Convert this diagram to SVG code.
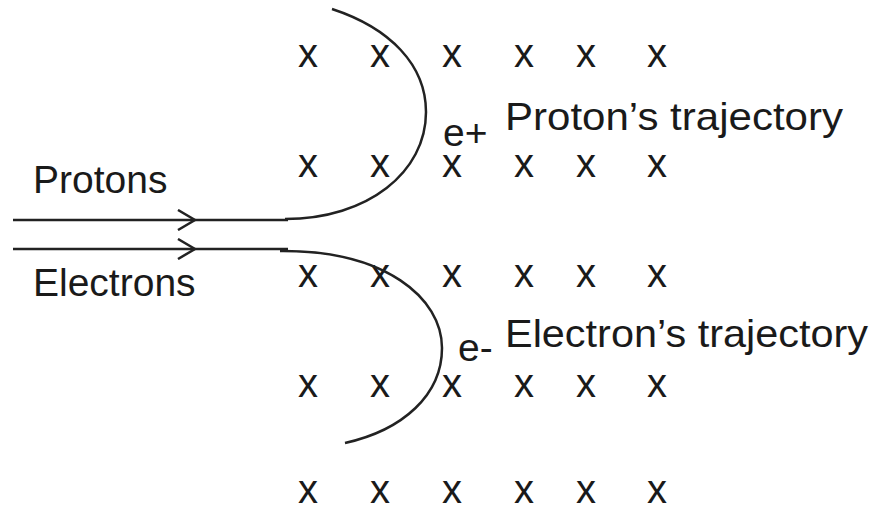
<svg xmlns="http://www.w3.org/2000/svg" width="873" height="510" viewBox="0 0 873 510">
  <style>
    .lbl { font-family: "Liberation Sans", Arial, sans-serif; font-size: 39px; fill: #1a1a1a; }
    .x { font-family: "Liberation Sans", Arial, sans-serif; font-size: 40px; fill: #1a1a1a; text-anchor: middle; }
    .ln { fill: none; stroke: #222; stroke-width: 2.5; }
  </style>
  <defs>
    <marker id="chev" viewBox="0 0 20 22" refX="18" refY="11" markerWidth="20" markerHeight="22" markerUnits="userSpaceOnUse" orient="auto">
      <path d="M1,1 L18,11 L1,21" fill="none" stroke="#222" stroke-width="2.5"/>
    </marker>
  </defs>
  <rect width="873" height="510" fill="#fff"/>

  <g id="field">
    <text class="x" x="308" y="67">x</text><text class="x" x="380" y="67">x</text><text class="x" x="452" y="67">x</text><text class="x" x="524" y="67">x</text><text class="x" x="586" y="67">x</text><text class="x" x="657" y="67">x</text>
    <text class="x" x="308" y="177">x</text><text class="x" x="380" y="177">x</text><text class="x" x="452" y="177">x</text><text class="x" x="524" y="177">x</text><text class="x" x="586" y="177">x</text><text class="x" x="657" y="177">x</text>
    <text class="x" x="308" y="287">x</text><text class="x" x="380" y="287">x</text><text class="x" x="452" y="287">x</text><text class="x" x="524" y="287">x</text><text class="x" x="586" y="287">x</text><text class="x" x="657" y="287">x</text>
    <text class="x" x="308" y="397">x</text><text class="x" x="380" y="397">x</text><text class="x" x="452" y="397">x</text><text class="x" x="524" y="397">x</text><text class="x" x="586" y="397">x</text><text class="x" x="657" y="397">x</text>
    <text class="x" x="308" y="503">x</text><text class="x" x="380" y="503">x</text><text class="x" x="452" y="503">x</text><text class="x" x="524" y="503">x</text><text class="x" x="586" y="503">x</text><text class="x" x="657" y="503">x</text>
  </g>

  <g id="connectors">
    <path id="proton-beam" class="ln" d="M13,220 L195,220 L288,220" marker-mid="url(#chev)"/>
    <path id="proton-traj" class="ln" d="M332,9 C390,28 426,65 426,112 C426,172 368,219 285,219"/>
    <path id="electron-beam" class="ln" d="M13,249 L195,249 L288,249" marker-mid="url(#chev)"/>
    <path id="electron-traj" class="ln" d="M280,251 C385,250 442,298 442,348 C442,395 403,430 345,443"/>
  </g>

  <g id="label-protons"><text class="lbl" x="33" y="193">Protons</text></g>
  <g id="label-electrons"><text class="lbl" x="33" y="296">Electrons</text></g>
  <g id="label-eplus"><text class="lbl" x="443" y="146">e+</text></g>
  <g id="label-eminus"><text class="lbl" x="458" y="361">e-</text></g>
  <g id="label-proton-traj"><text class="lbl" x="505" y="130" textLength="338" lengthAdjust="spacingAndGlyphs">Proton’s trajectory</text></g>
  <g id="label-electron-traj"><text class="lbl" x="505" y="347" textLength="363" lengthAdjust="spacingAndGlyphs">Electron’s trajectory</text></g>
</svg>
